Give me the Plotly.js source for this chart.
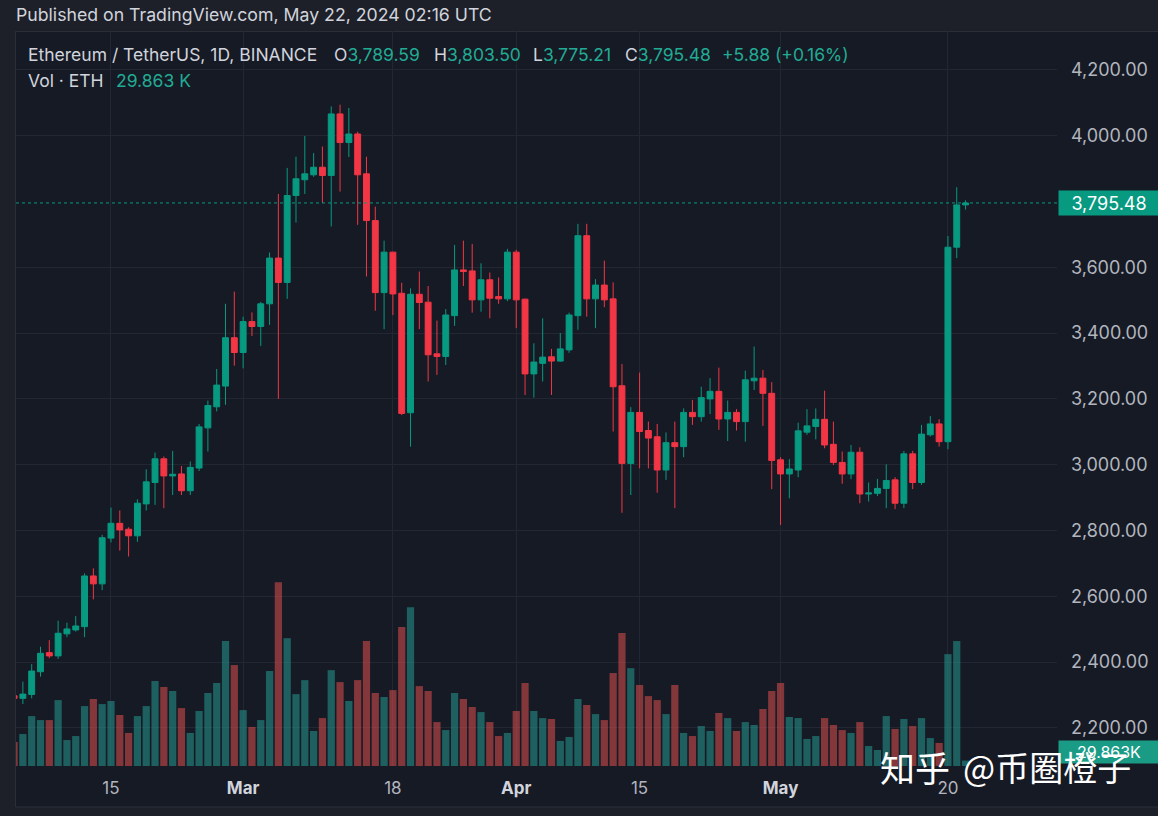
<!DOCTYPE html>
<html>
<head>
<meta charset="utf-8">
<script src="https://cdn.plot.ly/plotly-3.0.1.min.js"></script>
<style>
html,body{margin:0;padding:0;background:#1d2029;}
#chart{width:1158px;height:816px;}
</style>
</head>
<body>
<div id="chart"></div>
<script>
// ---- data (ETH/USDT daily, Binance) ----
const startDate = '2024-02-04';
const openP = [
 2298,2290,2302,2371,2429,2419,2486,2498,2508,2662,2638,2777,2822,2804,2784,2881,2946,3018,2966,2972,2921,2990,3112,3176,3239,3386,
 3341,3435,3420,3489,3628,3554,3818,3866,3881,3904,3879,4066,3979,4005,3884,3742,3523,3646,3521,3158,3518,3494,3337,3329,3453,3592,3589,3501,3562,3511,3504,
 3646,3503,3276,3308,3328,3315,3349,3453,3696,3504,3546,3504,3240,3004,3159,3104,3085,2984,3067,3055,3159,3146,3200,3223,3139,3159,3131,3255,3263,3217,
 3015,2972,2984,3099,3116,3138,3062,3007,2972,3038,2911,2913,2928,2954,2883,3033,2946,3091,3124,3070,3661,3789.59
];
const highP = [
 2305,2341,2394,2447,2467,2526,2520,2540,2670,2685,2787,2870,2861,2810,2895,2986,3037,3025,3042,2996,3010,3124,3195,3291,3489,3526,
 3450,3463,3495,3645,3823,3902,3936,3999,3947,3967,4089,4094,4084,4012,3936,3784,3681,3647,3553,3536,3587,3543,3438,3473,3668,3681,3671,3612,3584,3569,3656,
 3653,3505,3369,3445,3352,3400,3462,3732,3732,3564,3620,3554,3306,3175,3280,3131,3124,3098,3131,3171,3197,3237,3263,3295,3195,3169,3286,3359,3288,3251,
 3023,3017,3128,3169,3171,3225,3131,3040,3060,3053,2946,2957,3001,2962,3042,3042,3121,3148,3138,3695,3843,3803.50
];
const lowP = [
 2285,2273,2290,2356,2412,2410,2476,2493,2476,2591,2619,2764,2739,2721,2766,2861,2878,2868,2908,2908,2908,2981,3040,3162,3182,3301,
 3293,3391,3361,3425,3200,3504,3736,3823,3875,3796,3724,3830,3935,3729,3572,3468,3412,3455,3151,3055,3412,3253,3273,3303,3422,3543,3462,3465,3445,3489,3497,
 3415,3212,3204,3253,3212,3313,3340,3410,3450,3415,3479,3101,2854,2908,2989,2989,2915,2954,2868,3023,3121,3131,3154,3106,3072,3104,3070,3227,3118,2926,
 2817,2898,2962,3091,3077,3050,2999,2942,2956,2883,2888,2905,2868,2865,2868,2926,2939,3086,3055,3047,3628,3775.21
];
const closeP = [
 2290,2303,2373,2427,2419,2488,2501,2510,2662,2638,2778,2822,2802,2784,2883,2948,3018,2966,2971,2921,2992,3115,3180,3242,3386,3341,
 3435,3420,3489,3628,3554,3818,3869,3884,3904,3879,4066,3979,4005,3881,3742,3523,3646,3519,3156,3518,3493,3334,3329,3455,3592,3587,3501,3562,3506,3504,3646,
 3501,3276,3312,3327,3315,3352,3455,3696,3504,3546,3501,3237,3004,3159,3101,3081,2984,3067,3055,3159,3146,3204,3223,3139,3159,3131,3258,3263,3217,3013,
 2972,2987,3103,3118,3138,3060,3007,2972,3038,2911,2914,2928,2952,2883,3033,2946,3093,3124,3070,3661,3789.60,3795.48
];
// volume in thousands of ETH
const volumeK = [
 132,176,275,253,253,363,143,165,330,369,341,358,281,182,275,330,468,435,413,319,182,303,402,457,688,556,
 308,215,253,523,1012,704,396,473,193,264,528,462,358,473,688,402,380,418,765,875,440,413,242,198,402,369,325,297,242,165,182,
 303,457,303,264,259,138,160,369,336,286,253,512,732,539,446,385,363,286,446,182,165,220,193,292,264,193,242,226,314,413,
 457,270,264,149,165,264,226,198,182,242,110,88,275,204,259,220,264,154,127,616,688,29.863
];
const tickDates = ['2024-02-15','2024-03-01','2024-03-18','2024-04-01','2024-04-15','2024-05-01','2024-05-20'];
const tickLabels = ['15','Mar','18','Apr','15','May','20'];
const monthTicks = ['Mar','Apr','May'];
const priceTicks = [2200,2400,2600,2800,3000,3200,3400,3600,4000,4200];
const lastPrice = 3795.48;
const lastVolLabel = '29.863K';

// ---- build ----
const dates = [];
(function(){
  const d0 = new Date(startDate + 'T00:00:00Z');
  for (let i = 0; i < openP.length; i++) {
    const d = new Date(d0.getTime() + i * 86400000);
    dates.push(d.toISOString().slice(0,10));
  }
})();
const UP = '#089981', DOWN = '#f23645';
const volColors = openP.map((o,i) => closeP[i] >= o ? 'rgba(38,166,154,0.5)' : 'rgba(239,83,80,0.5)');

const W = 1158, H = 816;
const M = {l:16, r:101, t:31, b:50};
const pw = W - M.l - M.r, ph = H - M.t - M.b;
const px2x = px => (px - M.l) / pw;
const py2y = py => (H - M.b - py) / ph;
const FONT = 'Inter, Roboto, "Noto Sans", sans-serif';
const TXT = '#d1d4dc', VAL = '#22ab94', AX = '#b2b5be', GRID = '#232734';

const fmt = v => v.toLocaleString('en-US', {minimumFractionDigits:2, maximumFractionDigits:2});

const candles = {
  type:'candlestick', x:dates, open:openP, high:highP, low:lowP, close:closeP,
  xaxis:'x', yaxis:'y2',
  increasing:{line:{color:UP,width:1}, fillcolor:UP},
  decreasing:{line:{color:DOWN,width:1}, fillcolor:DOWN},
  whiskerwidth:0, hoverinfo:'skip', showlegend:false
};
const vols = {
  type:'bar', x:dates, y:volumeK, xaxis:'x', yaxis:'y',
  marker:{color:volColors, line:{width:0}}, width:0.82*86400000,
  hoverinfo:'skip', showlegend:false
};

const last = openP.length - 1;
const chg = closeP[last] - closeP[last-1];
const chgPct = chg / closeP[last-1] * 100;
const span = s => '<span style="color:' + VAL + '">' + s + '</span>';

function ann(px, py, text, size, color, extra){
  return Object.assign({xref:'paper', yref:'paper', x:px2x(px), y:py2y(py), xanchor:'left', yanchor:'middle',
    text:text, showarrow:false, font:{family:FONT, size:size, color:color}}, extra||{});
}

const LS = 17.5;
const annotations = [
  ann(14, 14, 'Published on TradingView.com, May 22, 2024 02:16 UTC', 17.7, TXT),
  ann(26, 55, 'Ethereum / TetherUS, 1D, BINANCE', LS, TXT),
  ann(332, 55, 'O' + span(fmt(openP[last])), LS, TXT),
  ann(432, 55, 'H' + span(fmt(highP[last])), LS, TXT),
  ann(531, 55, 'L' + span(fmt(lowP[last])), LS, TXT),
  ann(623, 55, 'C' + span(fmt(closeP[last])), LS, TXT),
  ann(720, 55, span((chg>=0?'+':'') + chg.toFixed(2) + ' (' + (chg>=0?'+':'') + chgPct.toFixed(2) + '%)'), LS, TXT),
  ann(26, 80.5, 'Vol · ETH', LS, TXT),
  ann(114, 80.5, span((volumeK[last]).toFixed(3) + ' K'), LS, TXT),
  // price badge
  {xref:'paper', yref:'y2', x:px2x(1058), y:lastPrice, xanchor:'left', yanchor:'middle', showarrow:false,
   text:fmt(lastPrice), bgcolor:UP, width:100, height:24, align:'center', borderpad:0,
   font:{family:FONT, size:18, color:'#ffffff'}},
  // volume badge
  {xref:'paper', yref:'paper', x:px2x(1058), y:py2y(752), xanchor:'left', yanchor:'middle', showarrow:false,
   text:lastVolLabel, bgcolor:'#1a9b86', width:100, height:22, align:'center', borderpad:0,
   font:{family:FONT, size:16, color:'#ffffff'}},
  // watermark
  ann(878, 766, '知乎', 35, '#ffffff', {font:{family:'"Noto Sans CJK SC", sans-serif', size:35, color:'#ffffff'}}),
  ann(961, 766, '@币圈橙子', 34, '#ffffff', {font:{family:'"Noto Sans CJK SC", sans-serif', size:34, color:'#ffffff'}})
];

const shapes = [
  {type:'rect', xref:'paper', yref:'paper', x0:px2x(15.5), x1:px2x(1175), y0:py2y(807), y1:py2y(31.5),
   fillcolor:'#161a25', line:{color:'#2a2e39', width:1}, layer:'below'},
  {type:'line', xref:'paper', yref:'y2', x0:0, x1:1, y0:lastPrice, y1:lastPrice,
   line:{color:UP, width:1, dash:'dot'}}
];

const layout = {
  width:W, height:H, margin:M,
  paper_bgcolor:'#1d2029', plot_bgcolor:'rgba(0,0,0,0)',
  font:{family:FONT, color:AX},
  showlegend:false,
  boxgap:0.33, boxgroupgap:0,
  xaxis:{
    type:'date', range:['2024-02-04 05:15','2024-06-01 09:07'],
    rangeslider:{visible:false},
    tickmode:'array', tickvals:tickDates,
    ticktext:tickLabels.map(t => monthTicks.includes(t) ? '<span style="color:#d1d4dc"><b>'+t+'</b></span>' : t),
    tickfont:{family:FONT, size:17, color:AX},
    showgrid:true, gridcolor:GRID, gridwidth:1, zeroline:false, showline:false, ticks:'',
    ticklabelstandoff:10, fixedrange:true
  },
  yaxis:{range:[0, 4048], visible:false, fixedrange:true},
  yaxis2:{
    overlaying:'y', side:'right', anchor:'x', range:[2084.5, 4318],
    tickmode:'array', tickvals:priceTicks, ticktext:priceTicks.map(fmt),
    tickfont:{family:FONT, size:18, color:AX},
    showgrid:true, gridcolor:GRID, gridwidth:1, zeroline:false, showline:false, ticks:'',
    ticklabelstandoff:13, fixedrange:true
  },
  annotations:annotations,
  shapes:shapes
};

Plotly.newPlot('chart', [vols, candles], layout, {displayModeBar:false, staticPlot:true});
</script>
</body>
</html>
